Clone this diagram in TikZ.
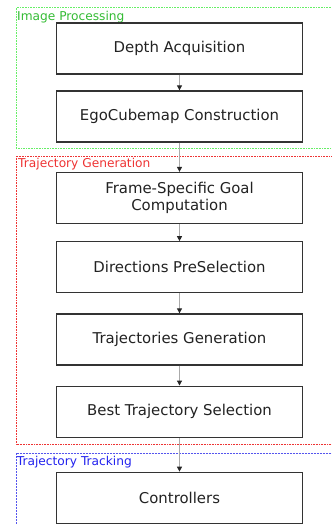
\documentclass[tikz,border=0pt]{standalone}
\usepackage{fontspec}
\setmainfont{DejaVu Sans}
\usetikzlibrary{arrows.meta}
\definecolor{boxline}{HTML}{333333}
\definecolor{boxtext}{HTML}{222222}
\definecolor{arrowgray}{HTML}{AAAAAA}
\definecolor{grnline}{HTML}{66EE66}
\definecolor{grntext}{HTML}{33BB33}
\definecolor{redline}{HTML}{EE3333}
\definecolor{redtext}{HTML}{EE3333}
\definecolor{bluline}{HTML}{5555EE}
\definecolor{blutext}{HTML}{2222EE}
\tikzset{
  stepbox/.style={draw=boxline, line width=1.3pt, fill=white, minimum width=246pt,
    minimum height=51pt, inner sep=0pt, align=center, text=boxtext,
    font=\fontsize{14.9}{17}\selectfont},
  flow/.style={draw=arrowgray, line width=1pt, -{Triangle[length=5pt,width=5pt,color=black!85]}},
  grpframe/.style={line width=0.6pt},
  grplabel/.style={anchor=base west, inner sep=0pt, font=\fontsize{12.2}{14}\selectfont}
}
\begin{document}
\begin{tikzpicture}[x=1pt,y=-1pt]
\useasboundingbox (0,0) rectangle (332,525);
\clip (0,0) rectangle (332,525);
% group frames
\draw[grpframe, grnline, densely dotted] (16,7.5) rectangle (345,148);
\draw[grpframe, redline, densely dotted] (16.5,156) rectangle (345,444);
\draw[grpframe, bluline, dash pattern=on 2pt off 1pt] (16,453.3) rectangle (345,540);
\node[grplabel, text=grntext] (lip) at (17,20) {Image Processing};
\node[grplabel, text=redtext] (ltg) at (18,167) {Trajectory Generation};
\node[grplabel, text=blutext] (ltt) at (16.7,465.5) {Trajectory Tracking};
% steps
\node[stepbox] (depth) at (179.5,48.5) {Depth Acquisition};
\node[stepbox] (ego) at (179.5,116.5) {EgoCubemap Construction};
\node[stepbox] (goal) at (179.5,198) {Frame-Specific Goal\\Computation};
\node[stepbox] (dir) at (179.5,267.3) {Directions PreSelection};
\node[stepbox] (tgen) at (179.5,339.5) {Trajectories Generation};
\node[stepbox] (best) at (179.5,411.7) {Best Trajectory Selection};
\node[stepbox] (ctrl) at (179.5,497.8) {Controllers};
% connectors
\draw[flow] (depth) -- (ego);
\draw[flow] (ego) -- (goal);
\draw[flow] (goal) -- (dir);
\draw[flow] (dir) -- (tgen);
\draw[flow] (tgen) -- (best);
\draw[flow] (best) -- (ctrl);
\end{tikzpicture}
\end{document}
